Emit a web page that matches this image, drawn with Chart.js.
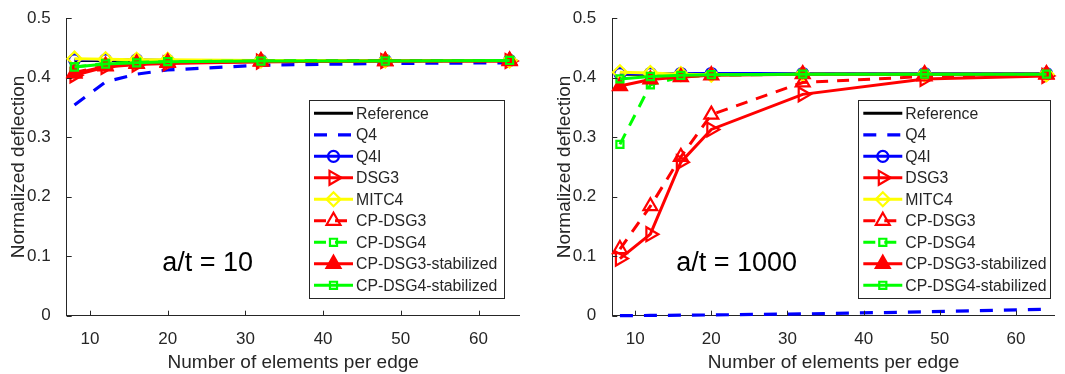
<!DOCTYPE html>
<html>
<head>
<meta charset="utf-8">
<script src="https://cdn.jsdelivr.net/npm/chart.js@4.4.0/dist/chart.umd.min.js"></script>
<style>
  html, body { margin: 0; padding: 0; background: #fff; width: 1065px; height: 374px; overflow: hidden; }
  .panel { position: absolute; top: 0; height: 374px; }
  #leftPanel { left: 0; width: 530px; }
  #rightPanel { left: 530px; width: 535px; }
</style>
</head>
<body>
<div class="panel" id="leftPanel"><canvas id="chartLeft" width="530" height="374"></canvas></div>
<div class="panel" id="rightPanel"><canvas id="chartRight" width="535" height="374"></canvas></div>
<script>
// number of elements per edge
const elements = [8, 12, 16, 20, 32, 48, 64];
const xTicks = [10, 20, 30, 40, 50, 60];
const yTicks = [0, 0.1, 0.2, 0.3, 0.4, 0.5];
const names = ['Reference', 'Q4', 'Q4I', 'DSG3', 'MITC4', 'CP-DSG3', 'CP-DSG4', 'CP-DSG3-stabilized', 'CP-DSG4-stabilized'];

// a/t = 10
const ref10 = [0.429, 0.429, 0.429, 0.429, 0.429, 0.429, 0.429];
const q4_10 = [0.354, 0.393, 0.406, 0.413, 0.421, 0.424, 0.425];
const q4i_10 = [0.430, 0.430, 0.430, 0.429, 0.429, 0.429, 0.429];
const dsg3_10 = [0.404, 0.418, 0.422, 0.424, 0.427, 0.428, 0.428];
const mitc4_10 = [0.432, 0.431, 0.430, 0.430, 0.429, 0.429, 0.429];
const cpdsg3_10 = [0.409, 0.420, 0.424, 0.426, 0.428, 0.428, 0.429];
const cpdsg4_10 = [0.418, 0.424, 0.426, 0.427, 0.428, 0.429, 0.429];
const cpdsg3s_10 = [0.407, 0.419, 0.423, 0.425, 0.427, 0.428, 0.428];
const cpdsg4s_10 = [0.418, 0.423, 0.425, 0.427, 0.428, 0.428, 0.429];

// a/t = 1000
const ref1000 = [0.406, 0.406, 0.406, 0.406, 0.406, 0.406, 0.406];
const q4_1000 = [0.0002, 0.0004, 0.0008, 0.0013, 0.003, 0.0065, 0.011];
const q4i_1000 = [0.407, 0.407, 0.407, 0.407, 0.407, 0.407, 0.407];
const dsg3_1000 = [0.096, 0.137, 0.258, 0.313, 0.372, 0.398, 0.403];
const mitc4_1000 = [0.409, 0.408, 0.406, 0.405, 0.406, 0.406, 0.406];
const cpdsg3_1000 = [0.112, 0.184, 0.267, 0.338, 0.392, 0.402, 0.405];
const cpdsg4_1000 = [0.288, 0.388, 0.401, 0.404, 0.406, 0.406, 0.406];
const cpdsg3s_1000 = [0.386, 0.397, 0.401, 0.404, 0.406, 0.406, 0.406];
const cpdsg4s_1000 = [0.398, 0.402, 0.404, 0.405, 0.406, 0.406, 0.406];

const FONT = '"Liberation Sans", Arial, Helvetica, sans-serif';
const GREY = '#262626';

// line / marker style per series (same order as names)
const styles = [
  { color: '#000000', dash: [], marker: false },
  { color: '#0000ff', dash: [13, 11], marker: false, width: 3.2 },
  { color: '#0000ff', dash: [], marker: 'circle', radius: 5.5 },
  { color: '#ff0000', dash: [], marker: 'triangle', radius: 8, rotation: 90 },
  { color: '#ffff00', dash: [], marker: 'rectRot', radius: 7 },
  { color: '#ff0000', dash: [12, 9], marker: 'triangle', radius: 8 },
  { color: '#00ff00', dash: [12, 9], marker: 'rect', radius: 5 },
  { color: '#ff0000', dash: [], marker: 'triangle', radius: 8, filled: true },
  { color: '#00ff00', dash: [], marker: 'rect', radius: 5 }
];

function buildDatasets(seriesList) {
  return seriesList.map((vals, i) => {
    const s = styles[i];
    return {
      label: names[i],
      data: vals.map((v, k) => ({ x: elements[k], y: v })),
      borderColor: s.color,
      backgroundColor: s.color,
      borderWidth: s.width || 3,
      borderDash: s.dash,
      pointStyle: s.marker || 'circle',
      pointRadius: s.marker ? s.radius : 0,
      pointRotation: s.rotation || 0,
      pointBorderWidth: 2.2,
      pointBorderColor: s.color,
      pointBackgroundColor: s.filled ? s.color : 'rgba(0,0,0,0)',
      tension: 0,
      clip: false,
      order: 20 - i
    };
  });
}

// inward ticks, the a/t label and a MATLAB style legend box
const matlabAxes = {
  id: 'matlabAxes',
  afterDraw(chart, args, o) {
    const ctx = chart.ctx;
    const xs = chart.scales.x, ys = chart.scales.y;
    const a = chart.chartArea;
    ctx.save();
    ctx.strokeStyle = GREY;
    ctx.lineWidth = 1;
    ctx.beginPath();
    xTicks.forEach(v => {
      const px = Math.round(xs.getPixelForValue(v)) + 0.5;
      ctx.moveTo(px, a.bottom);
      ctx.lineTo(px, a.bottom - 5);
    });
    yTicks.forEach(v => {
      const py = Math.round(ys.getPixelForValue(v)) + 0.5;
      ctx.moveTo(a.left, py);
      ctx.lineTo(a.left + 5, py);
    });
    ctx.stroke();

    ctx.fillStyle = '#000';
    ctx.font = '27px ' + FONT;
    ctx.textAlign = 'left';
    ctx.textBaseline = 'middle';
    ctx.fillText(o.label, xs.getPixelForValue(o.labelX), ys.getPixelForValue(o.labelY));

    // legend
    const L = o.legend;
    ctx.fillStyle = '#fff';
    ctx.fillRect(L.left, L.top, L.width, L.height);
    ctx.strokeStyle = GREY;
    ctx.lineWidth = 1;
    ctx.strokeRect(Math.round(L.left) + 0.5, Math.round(L.top) + 0.5, Math.round(L.width), Math.round(L.height));
    ctx.font = '15.8px ' + FONT;
    ctx.textBaseline = 'middle';
    chart.data.datasets.forEach((ds, i) => {
      const y = L.top + 13.3 + 21.5 * i;
      ctx.strokeStyle = ds.borderColor;
      ctx.lineWidth = ds.borderWidth;
      ctx.setLineDash(ds.borderDash);
      ctx.beginPath();
      ctx.moveTo(L.left + 5, y);
      ctx.lineTo(L.left + 44, y);
      ctx.stroke();
      ctx.setLineDash([]);
      if (ds.pointRadius > 0 && Chart.helpers && Chart.helpers.drawPoint) {
        ctx.fillStyle = ds.pointBackgroundColor;
        ctx.strokeStyle = ds.pointBorderColor;
        ctx.lineWidth = ds.pointBorderWidth;
        Chart.helpers.drawPoint(ctx, {
          pointStyle: ds.pointStyle,
          radius: ds.pointRadius,
          rotation: ds.pointRotation,
          borderWidth: ds.pointBorderWidth
        }, L.left + 24.5, y);
      }
      ctx.fillStyle = GREY;
      ctx.fillText(ds.label, L.left + 47, y + 1);
    });
    ctx.restore();
  }
};

function makeChart(canvasId, seriesList, cfg) {
  return new Chart(document.getElementById(canvasId), {
    type: 'line',
    data: { datasets: buildDatasets(seriesList) },
    plugins: [matlabAxes],
    options: {
      responsive: false,
      animation: false,
      layout: { padding: { left: 0, right: cfg.padRight, top: 15, bottom: 0 } },
      plugins: {
        legend: { display: false },
        tooltip: { enabled: false },
        matlabAxes: { label: cfg.label, labelX: cfg.labelX, labelY: cfg.labelY, legend: cfg.legend }
      },
      scales: {
        x: {
          type: 'linear',
          min: 7,
          max: cfg.xMax,
          afterBuildTicks: s => { s.ticks = xTicks.map(v => ({ value: v })); },
          afterFit: s => { s.height = 58.3; },
          grid: { display: false },
          border: { display: true, color: GREY, width: 1 },
          ticks: { color: GREY, font: { family: FONT, size: 17 }, padding: 5, maxRotation: 0, autoSkip: false },
          title: { display: true, text: 'Number of elements per edge', color: GREY, font: { family: FONT, size: 19 }, padding: { top: 0, bottom: 0 } }
        },
        y: {
          min: 0,
          max: 0.5,
          afterBuildTicks: s => { s.ticks = yTicks.map(v => ({ value: v })); },
          afterFit: s => { s.width = cfg.yWidth; },
          grid: { display: false },
          border: { display: true, color: GREY, width: 1 },
          ticks: { color: GREY, font: { family: FONT, size: 17 }, padding: 8, callback: v => v === 0 ? '0' : v.toFixed(1) },
          title: { display: true, text: 'Normalized deflection', color: GREY, font: { family: FONT, size: 19 }, padding: { top: cfg.yTitlePad, bottom: 0 } }
        }
      }
    }
  });
}

makeChart('chartLeft',
  [ref10, q4_10, q4i_10, dsg3_10, mitc4_10, cpdsg3_10, cpdsg4_10, cpdsg3s_10, cpdsg4s_10],
  { padRight: 10.3, xMax: 65.3, yWidth: 66.7, yTitlePad: 7, label: 'a/t = 10', labelX: 19.3, labelY: 0.0876,
    legend: { left: 309, top: 100, width: 195, height: 198 } });

makeChart('chartRight',
  [ref1000, q4_1000, q4i_1000, dsg3_1000, mitc4_1000, cpdsg3_1000, cpdsg4_1000, cpdsg3s_1000, cpdsg4s_1000],
  { padRight: 0, xMax: 65.1, yWidth: 82.3, yTitlePad: 23, label: 'a/t = 1000', labelX: 15.4, labelY: 0.0876,
    legend: { left: 328.3, top: 100, width: 192.4, height: 198 } });
</script>
</body>
</html>
